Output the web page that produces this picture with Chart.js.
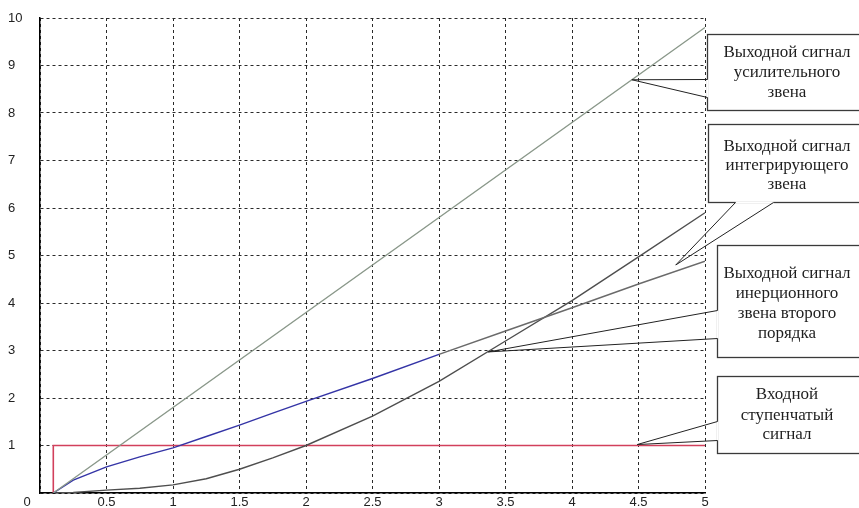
<!DOCTYPE html>
<html>
<head>
<meta charset="utf-8">
<script src="https://cdn.jsdelivr.net/npm/chart.js@4.4.1/dist/chart.umd.min.js"></script>
<style>
  html, body { margin: 0; padding: 0; background: #fff; }
  #wrap { width: 859px; height: 508px; }
</style>
</head>
<body>
<div id="wrap"><canvas id="chart" width="859" height="508"></canvas></div>
<script>
// Оси
const xTickValues = [0, 0.5, 1, 1.5, 2, 2.5, 3, 3.5, 4, 4.5, 5];
const yTickValues = [0, 1, 2, 3, 4, 5, 6, 7, 8, 9, 10];

// Время (общая сетка для выходных сигналов)
const time = [0.1, 0.25, 0.5, 0.75, 1, 1.25, 1.5, 1.75, 2, 2.5, 3, 3.5, 4, 4.5, 5];

// Выходные сигналы
const amplifierOut   = [0, 0.3, 0.8, 1.3, 1.8, 2.3, 2.8, 3.3, 3.8, 4.8, 5.8, 6.8, 7.8, 8.8, 9.8];
const integratorOut  = [0, 0.27, 0.55, 0.76, 0.95, 1.19, 1.43, 1.68, 1.93, 2.41, 2.92, 3.41, 3.9, 4.4, 4.88];
const inertial2Out   = [0, 0.01, 0.06, 0.1, 0.17, 0.3, 0.5, 0.74, 1.0, 1.62, 2.35, 3.2, 4.05, 4.97, 5.9];

// Входной ступенчатый сигнал
const stepTime  = [0.1, 0.1, 5];
const stepValue = [0, 1, 1];

function toPoints(xs, ys) {
    return xs.map((x, i) => ({ x: x, y: ys[i] }));
}

// Выноски: точка на кривой (в единицах графика), рамка и основание «хвоста» в пикселях
const callouts = [
    { at: [4.45, 8.7], box: [707, 34, 170, 76], base: [[707, 79], [707, 97]],
      lines: ['Выходной сигнал', 'усилительного', 'звена'], ys: [53, 73, 93] },
    { at: [4.78, 4.8], box: [708, 124, 170, 78], base: [[735, 202], [773, 202]],
      lines: ['Выходной сигнал', 'интегрирующего', 'звена'], ys: [147, 166, 185] },
    { at: [3.37, 2.97], box: [717, 245, 170, 112], base: [[717, 310], [717, 338]],
      lines: ['Выходной сигнал', 'инерционного', 'звена второго', 'порядка'], ys: [274, 294, 314, 334] },
    { at: [4.49, 1.02], box: [717, 376, 170, 77], base: [[717, 421], [717, 440]],
      lines: ['Входной', 'ступенчатый', 'сигнал'], ys: [395, 416, 435] }
];

const calloutPlugin = {
    id: 'callouts',
    afterDatasetsDraw(chart) {
        const ctx = chart.ctx;
        const xs = chart.scales.x, ys = chart.scales.y;
        ctx.save();
        callouts.forEach(c => {
            const ax = xs.getPixelForValue(c.at[0]);
            const ay = ys.getPixelForValue(c.at[1]);
            const [bx, by, bw, bh] = c.box;
            ctx.fillStyle = '#fff';
            ctx.fillRect(bx, by, bw, bh);
            ctx.strokeStyle = '#3a3a3a';
            ctx.lineWidth = 1.3;
            ctx.strokeRect(bx + 0.5, by + 0.5, bw, bh);
            // разрыв рамки под хвостом
            ctx.strokeStyle = '#fff';
            ctx.lineWidth = 2;
            ctx.beginPath();
            ctx.moveTo(c.base[0][0] + 0.5, c.base[0][1] + 0.5);
            ctx.lineTo(c.base[1][0] + 0.5, c.base[1][1] + 0.5);
            ctx.stroke();
            // хвост
            ctx.strokeStyle = '#222';
            ctx.lineWidth = 1;
            ctx.beginPath();
            ctx.moveTo(c.base[0][0] + 0.5, c.base[0][1] + 0.5);
            ctx.lineTo(ax, ay);
            ctx.lineTo(c.base[1][0] + 0.5, c.base[1][1] + 0.5);
            ctx.stroke();
            // текст
            ctx.fillStyle = '#1e1e1e';
            ctx.font = '17px "Liberation Serif", "Times New Roman", serif';
            ctx.textAlign = 'center';
            ctx.textBaseline = 'middle';
            c.lines.forEach((t, i) => ctx.fillText(t, 787, c.ys[i]));
        });
        // общий «0» в углу
        ctx.fillStyle = '#222';
        ctx.font = '13px "Liberation Sans", Arial, sans-serif';
        ctx.textAlign = 'center';
        ctx.textBaseline = 'middle';
        ctx.fillText('0', 27, 502);
        ctx.restore();
    }
};

const ctx = document.getElementById('chart').getContext('2d');
const chart = new Chart(ctx, {
    type: 'line',
    data: {
        datasets: [
            {
                label: 'Выходной сигнал усилительного звена',
                data: toPoints(time, amplifierOut),
                borderColor: '#8a988a',
                borderWidth: 1.4
            },
            {
                label: 'Выходной сигнал интегрирующего звена',
                data: toPoints(time, integratorOut),
                borderColor: '#3434a6',
                borderWidth: 1.4,
                segment: {
                    borderColor: c => c.p0.parsed.x < 2.8 ? '#3434a6' : '#6a6a6a'
                }
            },
            {
                label: 'Выходной сигнал инерционного звена второго порядка',
                data: toPoints(time, inertial2Out),
                borderColor: '#4e4e4e',
                borderWidth: 1.4
            },
            {
                label: 'Входной ступенчатый сигнал',
                data: toPoints(stepTime, stepValue),
                borderColor: '#d2405c',
                borderWidth: 1.6
            }
        ]
    },
    options: {
        responsive: false,
        animation: false,
        events: [],
        layout: { padding: { left: 8, top: 18, right: 154, bottom: 0 } },
        elements: {
            point: { radius: 0 },
            line: { tension: 0, fill: false }
        },
        scales: {
            x: {
                type: 'linear',
                min: 0,
                max: 5,
                afterFit: s => { s.height = 15; },
                afterBuildTicks: s => { s.ticks = xTickValues.map(v => ({ value: v })); },
                grid: { color: '#2a2a2a', lineWidth: 1, drawTicks: false },
                border: { color: '#000', width: 1.5, dash: [3, 3] },
                ticks: {
                    padding: 2,
                    maxRotation: 0,
                    color: '#222',
                    font: { family: '"Liberation Sans", Arial, sans-serif', size: 13 },
                    callback: v => v === 0 ? '' : String(v)
                }
            },
            y: {
                type: 'linear',
                min: 0,
                max: 10,
                afterFit: s => { s.width = 32; },
                afterBuildTicks: s => { s.ticks = yTickValues.map(v => ({ value: v })); },
                grid: { color: '#2a2a2a', lineWidth: 1, drawTicks: false },
                border: { color: '#000', width: 1.5, dash: [3, 3] },
                ticks: {
                    crossAlign: 'far',
                    color: '#222',
                    font: { family: '"Liberation Sans", Arial, sans-serif', size: 13 },
                    callback: v => v === 0 ? '' : String(v)
                }
            }
        },
        plugins: {
            legend: { display: false },
            tooltip: { enabled: false }
        }
    },
    plugins: [calloutPlugin]
});
</script>
</body>
</html>
